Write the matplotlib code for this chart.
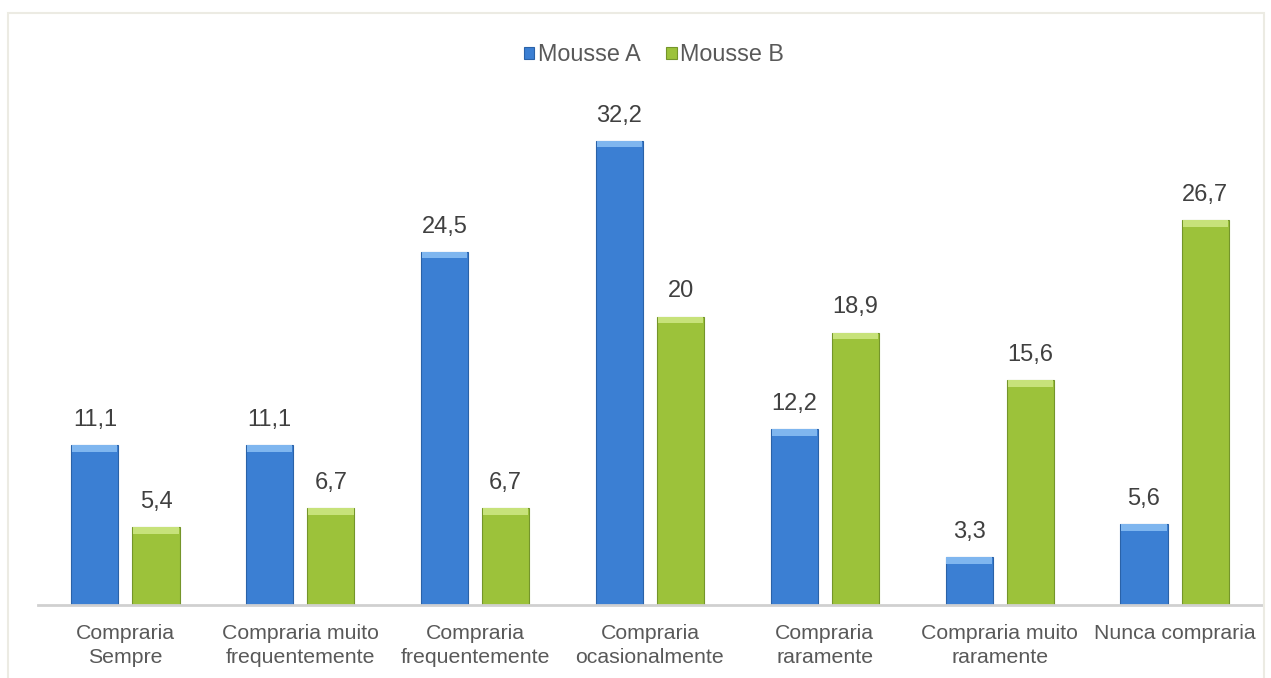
import matplotlib
matplotlib.use("Agg")
import matplotlib.pyplot as plt
from matplotlib.patches import Rectangle
import numpy as np

categories = ["Compraria\nSempre", "Compraria muito\nfrequentemente", "Compraria\nfrequentemente",
              "Compraria\nocasionalmente", "Compraria\nraramente", "Compraria muito\nraramente",
              "Nunca compraria"]
mousse_a = [11.1, 11.1, 24.5, 32.2, 12.2, 3.3, 5.6]
mousse_b = [5.4, 6.7, 6.7, 20, 18.9, 15.6, 26.7]
series = ["Mousse A", "Mousse B"]

BLUE, BLUE_EDGE, BLUE_TOP = "#3b7fd3", "#2a62a8", "#7fb6ef"
GREEN, GREEN_EDGE, GREEN_TOP = "#9cc23a", "#74952a", "#c7e27a"
TXT = "#595959"

plt.rcParams["font.family"] = ["Liberation Sans", "DejaVu Sans"]

fig = plt.figure(figsize=(12.71, 6.78), dpi=100)
# outer chart frame
fig.patches.append(Rectangle((8 / 1271, -0.01), 1256 / 1271, (678 - 13) / 678 + 0.01,
                             transform=fig.transFigure, fill=False, edgecolor="#ecebe3", lw=1.5))

ax = fig.add_axes([38 / 1271, (678 - 605) / 678, 1224 / 1271, (605 - 80) / 678])
x = np.arange(len(categories))
w = 0.27
off = 0.175


def draw(xs, vals, color, edge, top, label):
    bars = ax.bar(xs, vals, w, color=color, edgecolor=edge, linewidth=0.8, label=label, zorder=2)
    # lighter bevel on top of each bar
    ax.bar(xs, [0.45] * len(vals), w * 0.96, bottom=[v - 0.45 for v in vals],
           color=top, linewidth=0, zorder=3)
    for xi, v in zip(xs, vals):
        ax.text(xi, v + 1.0, f"{v:g}".replace(".", ","), ha="center", va="bottom",
                fontsize=17, color="#404040")
    return bars


draw(x - off, mousse_a, BLUE, BLUE_EDGE, BLUE_TOP, series[0])
draw(x + off, mousse_b, GREEN, GREEN_EDGE, GREEN_TOP, series[1])

ax.set_xlim(-0.5, len(categories) - 0.5)
ax.set_ylim(0, (605 - 80) / 14.41)
ax.set_yticks([])
ax.set_xticks(x)
ax.set_xticklabels(categories, fontsize=15.3, color=TXT, linespacing=1.3)
ax.tick_params(axis="x", length=0, pad=14)
for s in ["top", "right", "left"]:
    ax.spines[s].set_visible(False)
ax.spines["bottom"].set_color("#d0d0d0")
ax.spines["bottom"].set_linewidth(2)

ax.legend(loc="upper center", bbox_to_anchor=((654 - 38) / 1224, 1.11), ncol=2, frameon=False,
          fontsize=16.8, handlelength=0.45, handleheight=0.45, handletextpad=0.15,
          columnspacing=1.1, labelcolor=TXT)

fig.savefig("out.png", dpi=100)
